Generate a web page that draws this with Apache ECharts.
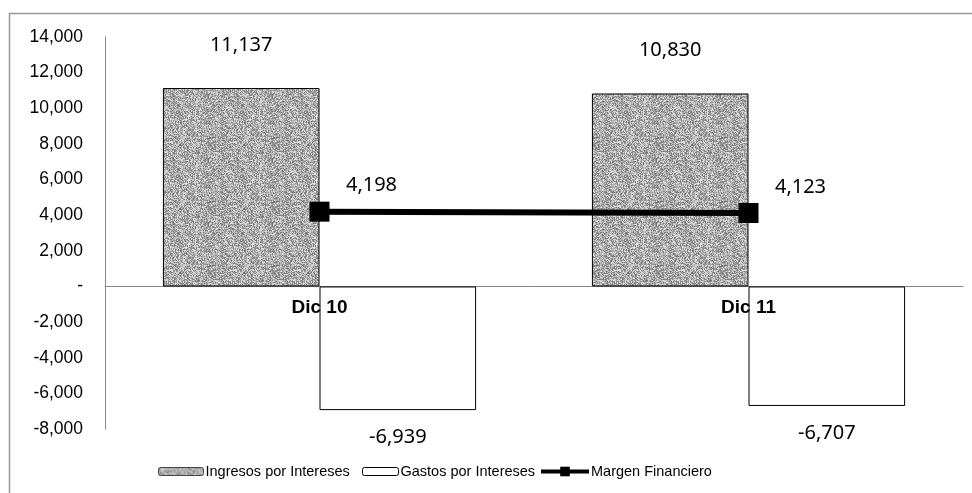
<!DOCTYPE html>
<html><head><meta charset="utf-8">
<script src="https://cdn.jsdelivr.net/npm/echarts@6/dist/echarts.min.js"></script>
<style>html,body{margin:0;padding:0;background:#fff}#c{width:972px;height:493px}</style>
</head><body><div id="c"></div>
<script>
const categories = ['Dic 10', 'Dic 11'];
const ingresos = [11137, 10830];
const gastos = [-6939, -6707];
const margen = [4198, 4123];
const yTicks = {min: -8000, max: 14000, interval: 2000};
const seriesNames = ['Ingresos por Intereses', 'Gastos por Intereses', 'Margen Financiero'];

// deterministic speckled gray texture
function makeTexture() {
  const c = document.createElement('canvas');
  c.width = 64; c.height = 64;
  const ctx = c.getContext('2d');
  const img = ctx.createImageData(64, 64);
  let s = 12345;
  for (let i = 0; i < 64 * 64; i++) {
    s = (s * 1103515245 + 12345) & 0x7fffffff;
    const v = 115 + ((s >> 8) % 115);
    img.data[i * 4] = v; img.data[i * 4 + 1] = v; img.data[i * 4 + 2] = v; img.data[i * 4 + 3] = 255;
  }
  ctx.putImageData(img, 0, 0);
  return c;
}
const tex = {image: makeTexture(), repeat: 'repeat'};
const fmt = v => Math.abs(v).toLocaleString('en-US');
const fmtSigned = v => (v < 0 ? '-' : '') + fmt(v);
const dataFont = {fontFamily: 'Noto Sans', fontSize: 20, color: '#000'};
const legendText = {fontFamily: 'Liberation Sans', fontSize: 14.5, color: '#000', padding: [0, 0, 0, -3]};

const chart = echarts.init(document.getElementById('c'));
chart.setOption({
  animation: false,
  backgroundColor: '#fff',
  graphic: [{type: 'rect', shape: {x: 9.5, y: 13.5, width: 1000, height: 520}, style: {fill: 'none', stroke: '#999', lineWidth: 1.5}, silent: true}],
  grid: {left: 105, right: 9, top: 37, bottom: 64},
  legend: [
    {top: 459, left: 153, itemWidth: 45, itemHeight: 8, textStyle: legendText,
      data: [{name: seriesNames[0], itemStyle: {color: tex, borderColor: '#444', borderWidth: 1}}]},
    {top: 459, left: 357, itemWidth: 36, itemHeight: 8, textStyle: legendText,
      data: [{name: seriesNames[1], itemStyle: {color: '#fff', borderColor: '#000', borderWidth: 1}}]},
    {top: 459, left: 534, itemWidth: 48, itemHeight: 12, textStyle: legendText,
      data: [{name: seriesNames[2], lineStyle: {width: 4, color: '#000'}, itemStyle: {color: '#000'}}]}
  ],
  xAxis: {
    type: 'category', data: categories,
    axisLine: {onZero: true, lineStyle: {color: '#888', width: 1}},
    axisTick: {show: false},
    axisLabel: {show: false}
  },
  yAxis: {
    type: 'value', min: yTicks.min, max: yTicks.max, interval: yTicks.interval,
    splitLine: {show: false},
    axisLine: {show: true, lineStyle: {color: '#888'}},
    axisTick: {show: false},
    axisLabel: {fontFamily: 'Liberation Sans', fontSize: 17.5, color: '#000', margin: 22,
      formatter: v => v === 0 ? '-' : fmtSigned(v)}
  },
  series: [
    {name: seriesNames[0], type: 'bar', data: ingresos, barGap: '0%', barCategoryGap: '27%',
      itemStyle: {color: tex, borderColor: '#000', borderWidth: 1},
      label: Object.assign({show: true, position: 'top', distance: 33, formatter: p => fmtSigned(p.value)}, dataFont)},
    {name: seriesNames[1], type: 'bar', data: gastos,
      itemStyle: {color: '#fff', borderColor: '#000', borderWidth: 1},
      label: Object.assign({show: true, position: 'bottom', distance: 17, formatter: p => fmtSigned(p.value)}, dataFont)},
    {name: seriesNames[2], type: 'line', data: margen, z: 5,
      symbol: 'rect', symbolSize: 20, lineStyle: {color: '#000', width: 6}, itemStyle: {color: '#000'},
      label: Object.assign({show: true, position: 'top', distance: 6, offset: [52, 0], formatter: p => fmtSigned(p.value)}, dataFont)},
    {name: 'categoryLabels', type: 'scatter', data: categories.map(c => [c, 0]), z: 6,
      symbolSize: 0, silent: true, tooltip: {show: false}, itemStyle: {opacity: 1},
      label: {show: true, position: 'bottom', distance: 12, formatter: p => p.value[0],
        fontFamily: 'Liberation Sans', fontSize: 19, fontWeight: 'bold', color: '#000', opacity: 1}}
  ]
});
</script></body></html>
